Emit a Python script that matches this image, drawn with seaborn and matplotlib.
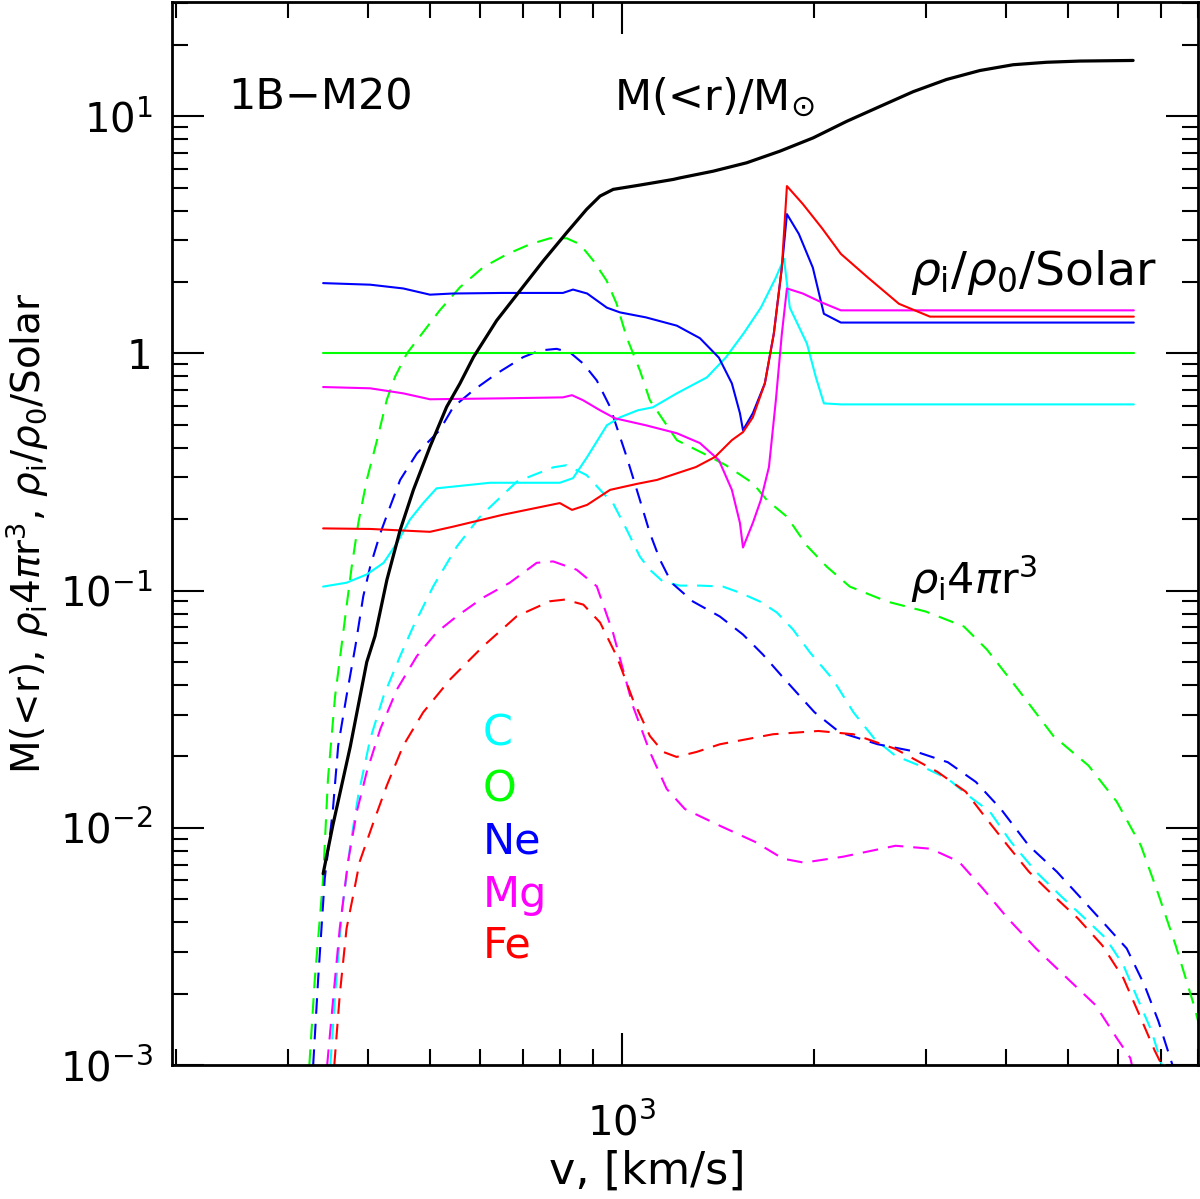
import matplotlib
matplotlib.use('Agg')
import matplotlib.pyplot as plt
import matplotlib.ticker as mticker
import seaborn as sns

# Enclosed mass M(<r)/Msun vs velocity [km/s]
v_mass = [340, 352, 375, 398, 410, 428, 449, 471, 500, 531, 557, 585, 636, 692, 753, 819, 880,
          924, 969, 1067, 1204, 1233, 1390, 1569, 1769, 1994, 2250, 2537, 2861, 3228, 3641,
          4105, 4630, 5224, 6330]
mass = [0.0064, 0.0102, 0.022, 0.050, 0.0643, 0.111, 0.180, 0.266, 0.404, 0.595, 0.746, 0.965,
        1.376, 1.84, 2.46, 3.23, 4.05, 4.61, 4.92, 5.13, 5.42, 5.50, 5.87, 6.37, 7.13, 8.11,
        9.52, 11.0, 12.7, 14.3, 15.6, 16.5, 16.9, 17.1, 17.2]

# rho_i/rho_0/Solar (solid lines)
v_ratio_C = [340, 370, 398, 423, 444, 465, 488, 512, 621, 799, 838, 882, 947, 993, 1059, 1118,
             1219, 1359, 1455, 1553, 1651, 1743, 1795, 1833, 1950, 2014, 2073, 2204, 6346]
ratio_C = [0.104, 0.108, 0.117, 0.131, 0.159, 0.199, 0.234, 0.270, 0.285, 0.285, 0.298, 0.366,
           0.498, 0.538, 0.576, 0.593, 0.679, 0.793, 0.962, 1.22, 1.56, 2.09, 2.51, 1.56, 1.10,
           0.793, 0.616, 0.610, 0.610]

v_ratio_O = [340, 6346]
ratio_O = [1.0, 1.0]

v_ratio_Ne = [340, 403, 454, 500, 543, 651, 808, 838, 882, 947, 993, 1090, 1219, 1325, 1419,
              1487, 1531, 1548, 1604, 1675, 1730, 1781, 1814, 1894, 1992, 2073, 2204, 6346]
ratio_Ne = [1.98, 1.95, 1.88, 1.77, 1.79, 1.80, 1.80, 1.86, 1.79, 1.56, 1.49, 1.42, 1.31, 1.16,
            0.96, 0.748, 0.56, 0.475, 0.56, 0.748, 1.21, 2.30, 3.87, 3.19, 2.30, 1.47, 1.35, 1.35]

v_ratio_Mg = [340, 403, 454, 500, 651, 808, 835, 869, 924, 975, 1090, 1219, 1325, 1419, 1487,
              1531, 1548, 1604, 1651, 1700, 1743, 1781, 1814, 1921, 2058, 2204, 6346]
ratio_Mg = [0.722, 0.713, 0.679, 0.641, 0.647, 0.653, 0.667, 0.635, 0.576, 0.533, 0.498, 0.461,
            0.419, 0.355, 0.266, 0.193, 0.152, 0.193, 0.241, 0.332, 0.635, 1.21, 1.88, 1.79,
            1.64, 1.52, 1.52]

v_ratio_Fe = [340, 403, 500, 543, 651, 799, 835, 882, 958, 1056, 1135, 1306, 1399, 1487, 1548,
              1604, 1675, 1730, 1781, 1814, 1921, 2058, 2204, 2430, 2718, 3040, 6346]
ratio_Fe = [0.183, 0.182, 0.177, 0.186, 0.209, 0.234, 0.219, 0.230, 0.266, 0.282, 0.293, 0.332,
            0.366, 0.431, 0.466, 0.538, 0.748, 1.21, 2.30, 5.08, 4.27, 3.38, 2.63, 2.09, 1.62,
            1.43, 1.43]

# rho_i 4 pi r^3 (dashed lines)
v_dash_C = [349, 355, 364, 375, 386, 403, 423, 449, 471, 506, 551, 599, 684, 780, 819, 880, 934,
            968, 1018, 1067, 1106, 1160, 1233, 1325, 1440, 1531, 1645, 1749, 1854, 1971, 2141,
            2306, 2489, 2685, 2971, 3243, 3499, 3774, 4071, 4457, 4868, 5318, 5736, 6113, 6430,
            6766, 7021]
mr_C = [0.0010, 0.00197, 0.00444, 0.00843, 0.0137, 0.0237, 0.036, 0.053, 0.0708, 0.1043, 0.1535,
        0.205, 0.288, 0.331, 0.338, 0.307, 0.258, 0.234, 0.180, 0.139, 0.1225, 0.109, 0.105,
        0.105, 0.104, 0.098, 0.090, 0.0809, 0.0686, 0.0549, 0.0423, 0.0307, 0.0237, 0.0201,
        0.0180, 0.0161, 0.0136, 0.0117, 0.00873, 0.00653, 0.00518, 0.00415, 0.00342, 0.00263,
        0.00191, 0.00139, 0.0010]

v_dash_O = [323.5, 330, 340, 346, 355, 365, 370, 377, 386, 398, 413, 428, 441, 460, 518, 557, 606,
            660, 718, 771, 819, 859, 902, 946, 981, 1017, 1067, 1106, 1219, 1339, 1455, 1604,
            1687, 1814, 1950, 2096, 2276, 2602, 2996, 3436, 3733, 4176, 4746, 5388, 5965, 6512,
            6946, 7382, 7882, 8200]
mr_O = [0.0010, 0.00232, 0.00611, 0.0161, 0.0359, 0.0643, 0.0859, 0.1265, 0.1925, 0.293, 0.431,
        0.64, 0.80, 1.0, 1.52, 1.90, 2.31, 2.62, 2.89, 3.06, 3.06, 2.89, 2.46, 2.03, 1.62, 1.17,
        0.848, 0.635, 0.431, 0.380, 0.338, 0.284, 0.241, 0.205, 0.1545, 0.126, 0.104, 0.090,
        0.0816, 0.0706, 0.0565, 0.0384, 0.0244, 0.0183, 0.0129, 0.0084, 0.00518, 0.00319,
        0.00179, 0.0012]

v_dash_Ne = [328, 334, 342, 352, 359, 370, 382, 393, 403, 418, 433, 449, 477, 518, 544, 585, 636,
             700, 744, 790, 829, 870, 913, 958, 1017, 1067, 1106, 1147, 1196, 1292, 1424, 1548,
             1663, 1788, 1901, 2004, 2193, 2518, 2897, 3243, 3589, 3927, 4345, 4806, 5253, 5736,
             6185, 6595, 6935, 7296]
mr_Ne = [0.0010, 0.00232, 0.00611, 0.0117, 0.0222, 0.036, 0.0583, 0.0946, 0.1265, 0.1747, 0.226,
         0.293, 0.379, 0.475, 0.595, 0.70, 0.822, 0.965, 1.03, 1.046, 1.01, 0.905, 0.770, 0.595,
         0.367, 0.241, 0.175, 0.135, 0.108, 0.090, 0.0778, 0.0653, 0.0538, 0.0431, 0.0359,
         0.0307, 0.0253, 0.0225, 0.0209, 0.0189, 0.0156, 0.0120, 0.0084, 0.00653, 0.00503,
         0.00388, 0.0031, 0.00217, 0.00153, 0.0010]

v_dash_Mg = [345, 353, 361, 372, 384, 398, 418, 444, 477, 512, 551, 606, 667, 735, 780, 849, 913,
             968, 1040, 1106, 1175, 1255, 1424, 1616, 1788, 1929, 2220, 2685, 3047, 3375, 3681,
             4027, 4457, 4990, 5525, 5965, 6266, 6330]
mr_Mg = [0.0010, 0.00197, 0.00376, 0.0072, 0.0117, 0.0172, 0.0261, 0.0384, 0.053, 0.0666, 0.078,
         0.0935, 0.108, 0.131, 0.1328, 0.1225, 0.1043, 0.0666, 0.0327, 0.0209, 0.0146, 0.0120,
         0.0102, 0.00873, 0.00741, 0.00713, 0.00755, 0.0084, 0.00816, 0.0072, 0.00554, 0.00415,
         0.0031, 0.00232, 0.00179, 0.0013, 0.00107, 0.00095]

v_dash_Fe = [354, 361, 370, 379, 388, 408, 428, 454, 488, 538, 606, 684, 771, 814, 870, 924, 981,
             1040, 1106, 1160, 1218, 1310, 1424, 1725, 2032, 2306, 2685, 3125, 3459, 3730, 4027,
             4345, 4746, 5185, 5665, 6113, 6512, 6843, 7021]
mr_Fe = [0.0010, 0.00197, 0.00376, 0.0052, 0.0072, 0.0106, 0.0151, 0.0222, 0.0307, 0.0423,
         0.0583, 0.078, 0.0902, 0.0917, 0.0873, 0.0734, 0.053, 0.0348, 0.0244, 0.0209, 0.0199,
         0.0209, 0.0225, 0.0248, 0.0256, 0.0248, 0.0215, 0.0172, 0.0142, 0.0109, 0.0084,
         0.00653, 0.00518, 0.00415, 0.00319, 0.00232, 0.00157, 0.00115, 0.0010]

elements = ['C', 'O', 'Ne', 'Mg', 'Fe']
colors = ['#00ffff', '#00ff00', '#0000ff', '#ff00ff', '#ff0000']
ratio_data = [(v_ratio_C, ratio_C), (v_ratio_O, ratio_O), (v_ratio_Ne, ratio_Ne),
              (v_ratio_Mg, ratio_Mg), (v_ratio_Fe, ratio_Fe)]
dash_data = [(v_dash_C, mr_C), (v_dash_O, mr_O), (v_dash_Ne, mr_Ne),
             (v_dash_Mg, mr_Mg), (v_dash_Fe, mr_Fe)]

sns.set_style('ticks')
plt.rcParams['font.family'] = ['DejaVu Sans']
plt.rcParams['mathtext.fontset'] = 'dejavusans'
plt.rcParams['text.color'] = 'black'
plt.rcParams['axes.labelcolor'] = 'black'

fig = plt.figure(figsize=(12, 11.99), dpi=100)
ax = fig.add_axes([0.1433, 0.1118, 0.855, 0.8867])
ax.set_xscale('log')
ax.set_yscale('log')

# dashed rho_i 4 pi r^3 curves
for (vx, vy), c in zip(dash_data, colors):
    sns.lineplot(x=vx, y=vy, ax=ax, color=c, lw=1.5, estimator=None, sort=False)
    ax.lines[-1].set_linestyle((0, (7.5, 4.8)))

# solid abundance ratio curves
for (vx, vy), c in zip(ratio_data, colors):
    sns.lineplot(x=vx, y=vy, ax=ax, color=c, lw=1.5, estimator=None, sort=False)

# enclosed mass
sns.lineplot(x=v_mass, y=mass, ax=ax, color='black', lw=2.3, estimator=None, sort=False)

ax.set_xlim(197, 8000)
ax.set_ylim(1e-3, 30.4)

ax.xaxis.set_minor_formatter(mticker.NullFormatter())
ax.yaxis.set_minor_formatter(mticker.NullFormatter())
ax.yaxis.set_major_locator(mticker.FixedLocator([1e-3, 1e-2, 1e-1, 1, 10]))
ax.yaxis.set_minor_locator(mticker.LogLocator(base=10, subs=range(2, 10), numticks=20))
ax.yaxis.set_major_formatter(mticker.FixedFormatter(
    [r'$10^{-3}$', r'$10^{-2}$', r'$10^{-1}$', '1', r'$10^{1}$']))

ax.tick_params(which='both', direction='in', top=True, right=True, width=1.5,
               colors='black', labelcolor='black')
ax.tick_params(which='major', length=23, labelsize=29)
ax.tick_params(which='minor', length=11.5)
ax.tick_params(axis='x', which='major', pad=28)
ax.tick_params(axis='y', which='major', pad=14)
for sp in ax.spines.values():
    sp.set_linewidth(2)
    sp.set_color('black')

ax.set_xlabel('v, [km/s]', fontsize=32, va='top')
ax.xaxis.set_label_coords(0.463, -0.08)
ax.set_ylabel(r'M(<r), $\rho_{\rm i}4\pi$r$^3$, $\rho_{\rm i}/\rho_0/$Solar', fontsize=28)
ax.yaxis.set_label_coords(-0.118, 0.5)

ax.text(0.0546, 0.91, '1B\u2212M20', transform=ax.transAxes, fontsize=31, va='center')
ax.text(0.431, 0.91, r'M(<r)/M$_{\odot}$', transform=ax.transAxes, fontsize=31, va='center')
ax.text(0.719, 0.745, r'$\rho_{\rm i}/\rho_0/$Solar', transform=ax.transAxes, fontsize=34,
        va='center')
ax.text(0.719, 0.457, r'$\rho_{\rm i}4\pi$r$^3$', transform=ax.transAxes, fontsize=31,
        va='center')

# element key
key_y = [0.312, 0.259, 0.210, 0.160, 0.112]
for el, c, yy in zip(elements, colors, key_y):
    ax.text(0.303, yy, el, color=c, transform=ax.transAxes, fontsize=31, va='center')

fig.savefig('out.png', dpi=100)
